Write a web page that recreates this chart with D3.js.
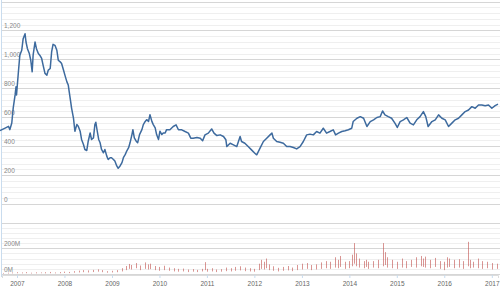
<!DOCTYPE html>
<html><head><meta charset="utf-8">
<script src="https://cdn.jsdelivr.net/npm/d3@7"></script>
<style>html,body{margin:0;padding:0;background:#fff;}svg{display:block;font-family:"Liberation Sans",Arial,sans-serif;}</style>
</head><body><svg id="c" width="500" height="288"></svg>
<script>
// ---- data (decimal years) ----
const priceDates = [2006.64,2006.75,2006.82,2006.85,2006.89,2006.92,2006.96,2006.98,2006.99,2007.03,2007.06,2007.10,2007.13,2007.17,2007.19,2007.22,2007.26,2007.29,2007.32,2007.34,2007.38,2007.41,2007.45,2007.48,2007.52,2007.55,2007.59,2007.63,2007.66,2007.70,2007.73,2007.76,2007.80,2007.84,2007.87,2007.91,2007.94,2007.98,2008.01,2008.05,2008.08,2008.10,2008.13,2008.15,2008.19,2008.22,2008.26,2008.29,2008.33,2008.36,2008.40,2008.43,2008.47,2008.50,2008.54,2008.57,2008.61,2008.64,2008.66,2008.69,2008.72,2008.75,2008.78,2008.82,2008.85,2008.89,2008.92,2008.96,2008.99,2009.03,2009.06,2009.10,2009.13,2009.17,2009.21,2009.24,2009.28,2009.31,2009.35,2009.38,2009.42,2009.44,2009.47,2009.51,2009.54,2009.58,2009.63,2009.66,2009.70,2009.73,2009.77,2009.80,2009.84,2009.87,2009.91,2009.94,2009.98,2010.01,2010.05,2010.08,2010.12,2010.15,2010.22,2010.29,2010.35,2010.40,2010.47,2010.54,2010.61,2010.66,2010.71,2010.79,2010.86,2010.91,2010.96,2011.03,2011.10,2011.15,2011.21,2011.28,2011.35,2011.40,2011.42,2011.49,2011.56,2011.63,2011.70,2011.73,2011.80,2011.87,2011.94,2012.01,2012.05,2012.12,2012.19,2012.26,2012.33,2012.37,2012.40,2012.47,2012.54,2012.61,2012.68,2012.75,2012.82,2012.89,2012.96,2013.03,2013.10,2013.17,2013.24,2013.31,2013.38,2013.45,2013.52,2013.59,2013.66,2013.71,2013.77,2013.84,2013.91,2013.98,2014.05,2014.08,2014.16,2014.23,2014.30,2014.37,2014.44,2014.51,2014.58,2014.65,2014.70,2014.75,2014.82,2014.89,2014.96,2015.01,2015.07,2015.14,2015.21,2015.28,2015.35,2015.42,2015.49,2015.56,2015.61,2015.66,2015.74,2015.81,2015.88,2015.95,2016.02,2016.09,2016.16,2016.23,2016.30,2016.37,2016.44,2016.51,2016.58,2016.65,2016.72,2016.79,2016.86,2016.93,2017.00,2017.07,2017.13];
const priceValues = [507,525,537,514,560,663,754,811,754,914,1029,1063,1143,1177,1120,1074,1040,994,914,1029,1120,1074,1040,1029,1006,960,903,891,926,937,1051,1104,1097,1063,994,983,971,926,891,846,823,777,709,663,594,503,549,537,503,446,411,377,370,434,491,446,457,549,565,503,446,423,377,354,377,331,308,320,320,308,297,263,247,263,286,320,343,366,389,423,480,514,457,434,423,480,514,549,571,583,571,617,571,549,526,480,446,503,480,491,491,514,513,536,547,513,513,501,490,455,455,460,455,437,478,490,519,490,473,478,467,444,397,420,409,397,467,432,420,397,374,351,340,386,432,455,478,490,455,432,427,420,397,397,391,381,397,432,478,483,478,501,490,524,490,501,513,478,490,501,506,513,524,570,593,604,593,536,570,582,598,604,643,616,604,593,559,529,570,582,598,559,547,582,604,639,604,536,570,582,616,593,582,536,559,582,593,616,639,650,673,662,685,685,680,685,662,680,690];

const volDates = [2006.70,2006.80,2006.90,2007.00,2007.10,2007.20,2007.30,2007.40,2007.50,2007.60,2007.70,2007.80,2007.90,2008.00,2008.10,2008.20,2008.30,2008.40,2008.50,2008.60,2008.70,2008.80,2008.90,2009.00,2009.10,2009.20,2009.30,2009.35,2009.40,2009.50,2009.60,2009.70,2009.75,2009.80,2009.90,2010.00,2010.10,2010.20,2010.30,2010.40,2010.50,2010.60,2010.70,2010.80,2010.90,2010.95,2011.00,2011.10,2011.20,2011.30,2011.40,2011.50,2011.60,2011.70,2011.80,2011.90,2012.00,2012.10,2012.15,2012.20,2012.25,2012.30,2012.40,2012.50,2012.60,2012.70,2012.80,2012.90,2013.00,2013.10,2013.20,2013.30,2013.40,2013.50,2013.60,2013.70,2013.75,2013.80,2013.90,2014.00,2014.05,2014.10,2014.15,2014.20,2014.30,2014.35,2014.40,2014.50,2014.60,2014.70,2014.75,2014.80,2014.90,2015.00,2015.10,2015.20,2015.30,2015.40,2015.50,2015.55,2015.60,2015.70,2015.80,2015.90,2016.00,2016.05,2016.10,2016.20,2016.30,2016.40,2016.50,2016.55,2016.60,2016.70,2016.80,2016.90,2017.00,2017.10];
const volLow  = [3,4,5,6,5,6,4,5,6,5,6,5,6,8,7,10,12,14,12,15,18,14,10,12,14,20,30,40,35,45,30,40,35,38,30,25,30,25,20,18,20,15,18,15,20,30,18,20,15,18,22,20,25,28,22,20,18,30,40,35,45,30,25,20,25,28,22,30,35,40,30,35,40,45,40,50,45,55,40,45,60,80,60,50,45,55,40,50,45,60,70,50,45,40,50,45,55,50,60,55,50,45,55,40,30,50,55,45,50,40,60,45,50,45,40,45,35,40];
const volHigh = [8,10,12,14,12,15,10,13,12,14,16,12,15,18,16,22,26,30,28,32,36,30,22,25,30,45,62,78,70,85,66,90,75,80,62,55,64,50,45,40,42,35,38,32,40,92,40,45,35,38,50,45,55,60,50,45,40,80,110,95,120,75,60,48,55,62,50,70,80,85,70,75,90,100,95,130,110,140,95,100,150,240,160,120,100,110,95,100,110,240,170,130,110,95,120,100,110,130,140,120,135,110,125,100,95,130,120,110,115,100,250,110,95,120,100,95,85,80];

const priceTicks = [0,200,400,600,800,1000,1200,1400];
const priceTickLabels = ["0","200","400","600","800","1,000","1,200",""];
const volTicks = [0,200,400];
const volTickLabels = ["0M","200M",""];
const yearTicks = [2007,2008,2009,2010,2011,2012,2013,2014,2015,2016,2017];

// ---- helpers ----
function toDate(t){
  const y = Math.floor(t);
  const start = new Date(y,0,1), end = new Date(y+1,0,1);
  return new Date(start.getTime() + (t-y)*(end-start));
}

const svg = d3.select("#c");
const x = d3.scaleTime().domain([toDate(2006.684), toDate(2017.13)]).range([2, 498]);
const yP = d3.scaleLinear().domain([0,1400]).range([204, 1.5]);
const yV = d3.scaleLinear().domain([0,400]).range([274, 222.5]);

// gridlines
function grid(scale, majors, step){
  const [d0,d1] = scale.domain();
  const minors = d3.range(d0, d1+0.001, step).filter(v => majors.indexOf(v) < 0);
  svg.append("g").selectAll("line").data(minors).join("line")
    .attr("x1",2).attr("x2",500)
    .attr("y1",d=>Math.round(scale(d))+0.5).attr("y2",d=>Math.round(scale(d))+0.5)
    .attr("stroke","#efefef").attr("stroke-width",1);
  svg.append("g").selectAll("line").data(majors).join("line")
    .attr("x1",2).attr("x2",500)
    .attr("y1",d=>Math.round(scale(d))+0.5).attr("y2",d=>Math.round(scale(d))+0.5)
    .attr("stroke","#d6d6d6").attr("stroke-width",1);
}
grid(yP, priceTicks, 40);
grid(yV, volTicks, 40);

// left axis line
svg.append("line").attr("x1",1.5).attr("x2",1.5).attr("y1",0).attr("y2",277)
  .attr("stroke","#c9dcee").attr("stroke-width",1);

// y labels
svg.append("g").selectAll("text").data(priceTicks).join("text")
  .attr("x",4).attr("y",d=>yP(d)-2.5).text((d,i)=>priceTickLabels[i])
  .attr("font-size","6.5px").attr("fill","#888");
svg.append("g").selectAll("text").data(volTicks).join("text")
  .attr("x",4).attr("y",d=>yV(d)-2.5).text((d,i)=>volTickLabels[i])
  .attr("font-size","6.5px").attr("fill","#888");

// x axis
const xa = svg.append("g").attr("transform","translate(0,275)")
  .call(d3.axisBottom(x).tickValues(yearTicks.map(toDate)).tickSize(3).tickFormat(d3.timeFormat("%Y")));
xa.select(".domain").attr("stroke","#dcdcdc");
xa.selectAll(".tick line").attr("stroke","#c9dcee");
xa.selectAll(".tick text").attr("font-size","6.5px").attr("fill","#666").attr("dy","0.8em")
  .attr("font-family","\"Liberation Sans\",Arial,sans-serif");

// volume bars
svg.append("g").selectAll("line").data(volDates).join("line")
  .attr("x1",d=>Math.round(x(toDate(d)))+0.5).attr("x2",d=>Math.round(x(toDate(d)))+0.5)
  .attr("y1",(d,i)=>yV(volLow[i])).attr("y2",(d,i)=>yV(volHigh[i]))
  .attr("stroke","#c0504d").attr("stroke-width",1).attr("opacity",0.6);

// price line
const line = d3.line().x((d,i)=>x(toDate(priceDates[i]))).y(d=>yP(d));
svg.append("path").datum(priceValues).attr("d",line)
  .attr("fill","none").attr("stroke","#3d6a9e").attr("stroke-width",1.5).attr("stroke-linejoin","round");
</script></body></html>
